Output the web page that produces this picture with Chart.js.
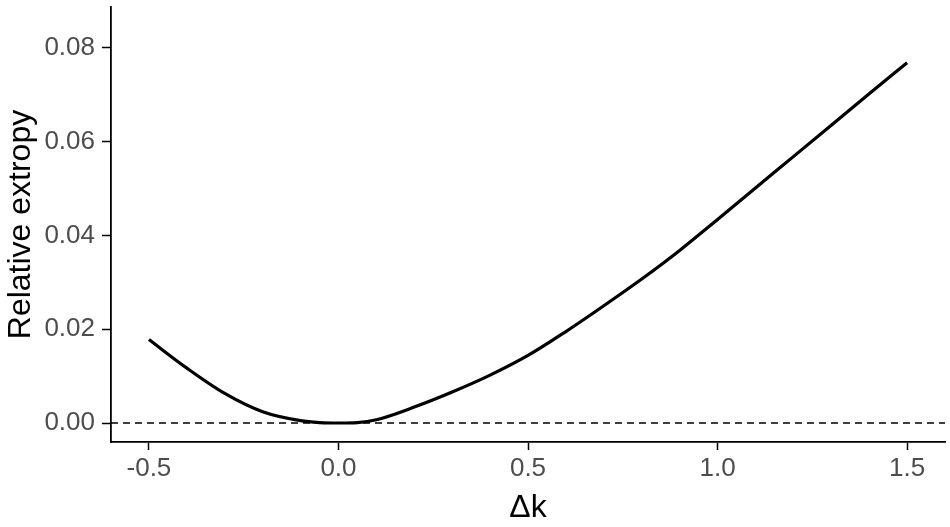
<!DOCTYPE html>
<html>
<head>
<meta charset="utf-8">
<script src="https://cdn.jsdelivr.net/npm/chart.js@4.4.1/dist/chart.umd.min.js"></script>
<style>
  html, body { margin: 0; padding: 0; background: #ffffff; }
  #wrap { width: 950px; height: 527px; position: relative; }
</style>
</head>
<body>
<div id="wrap"><canvas id="c" width="950" height="527"></canvas></div>
<script>
// Data
const deltaK = [-0.5, -0.4, -0.3, -0.2, -0.1, -0.05, 0.0, 0.05, 0.1, 0.2, 0.3, 0.4, 0.5, 0.6, 0.7, 0.8, 0.9, 1.0, 1.1, 1.2, 1.3, 1.4, 1.5];
const relExtropy = [0.0178, 0.0117, 0.0063, 0.0024, 0.0005, 0.0001, 0.0, 0.0001, 0.0007, 0.0034, 0.0066, 0.0102, 0.0144, 0.0195, 0.0250, 0.0307, 0.0368, 0.0434, 0.0501, 0.0568, 0.0635, 0.0702, 0.0768];
const xTicks = [-0.5, 0.0, 0.5, 1.0, 1.5];
const yTicks = [0.00, 0.02, 0.04, 0.06, 0.08];
const refLineY = 0;
const xLimits = [-0.6, 1.6];
const yLimits = [-0.00405, 0.0887];

const curve = deltaK.map((x, i) => ({ x: x, y: relExtropy[i] }));
const refLine = xLimits.map(x => ({ x: x, y: refLineY }));

const tickFont = { family: "'Liberation Sans', Arial, sans-serif", size: 26 };
const titleFont = { family: "'Liberation Sans', Arial, sans-serif", size: 32 };

new Chart(document.getElementById('c'), {
  type: 'line',
  data: {
    datasets: [
      {
        data: refLine,
        borderColor: '#000000',
        borderWidth: 1.6,
        borderDash: [7, 5],
        pointRadius: 0,
        fill: false,
        order: 2
      },
      {
        data: curve,
        borderColor: '#000000',
        borderWidth: 3.2,
        pointRadius: 0,
        cubicInterpolationMode: 'monotone',
        fill: false,
        order: 1
      }
    ]
  },
  options: {
    responsive: false,
    animation: false,
    layout: { padding: { top: 7, right: 5, left: 0, bottom: 0 } },
    plugins: { legend: { display: false }, tooltip: { enabled: false } },
    scales: {
      x: {
        type: 'linear',
        min: xLimits[0],
        max: xLimits[1],
        afterBuildTicks: s => { s.ticks = xTicks.map(v => ({ value: v })); },
        afterFit: s => { s.height = 85; s.paddingLeft = 0; s.paddingRight = 0; },
        grid: { display: true, drawOnChartArea: false, drawTicks: true, tickLength: 8, tickColor: '#000000', tickWidth: 1.5 },
        border: { display: true, color: '#000000', width: 1.8 },
        ticks: { color: '#4D4D4D', font: tickFont, padding: 3, maxRotation: 0, autoSkip: false,
                 callback: v => Number(v).toFixed(1) },
        title: { display: true, text: 'Δk', color: '#000000', font: titleFont, padding: { top: 0, bottom: 0 } }
      },
      y: {
        type: 'linear',
        min: yLimits[0],
        max: yLimits[1],
        afterBuildTicks: s => { s.ticks = yTicks.map(v => ({ value: v })); },
        afterFit: s => { s.width = 111; s.paddingTop = 0; s.paddingBottom = 0; },
        grid: { display: true, drawOnChartArea: false, drawTicks: true, tickLength: 9, tickColor: '#000000', tickWidth: 1.5 },
        border: { display: true, color: '#000000', width: 1.8 },
        ticks: { color: '#4D4D4D', font: tickFont, padding: 7, autoSkip: false,
                 callback: v => Number(v).toFixed(2) },
        title: { display: true, text: 'Relative extropy', color: '#000000', font: titleFont, padding: { top: 2, bottom: 0 } }
      }
    }
  }
});
</script>
</body>
</html>
